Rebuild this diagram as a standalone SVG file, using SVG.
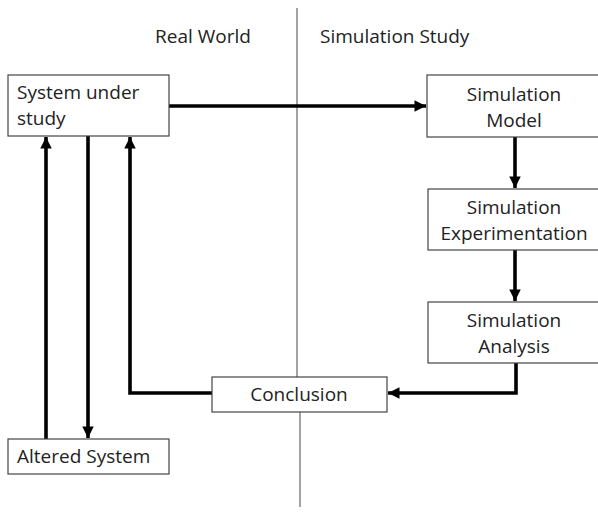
<svg xmlns="http://www.w3.org/2000/svg" width="598" height="513" viewBox="0 0 598 513">
<style>
text{font-family:"Open Sans","Liberation Sans",sans-serif;font-size:19px;fill:#222}
.box{fill:#fff;stroke:#444;stroke-width:1.2}
.c{text-anchor:middle}
.conn{fill:none;stroke:#000;stroke-width:3.6}
.div{stroke:#666;stroke-width:1.2}
</style>
<defs>
<marker id="ah" viewBox="0 0 10 10" refX="10" refY="5" markerWidth="3.2" markerHeight="3.2" orient="auto" markerUnits="strokeWidth">
<path d="M0,0 L10,5 L0,10 z" fill="#000"/>
</marker>
</defs>
<g id="divider">
<line class="div" x1="297" y1="8" x2="297" y2="377"/>
<line class="div" x1="300" y1="412" x2="300" y2="507"/>
</g>
<g id="headers">
<text x="155" y="43">Real World</text>
<text x="320" y="43">Simulation Study</text>
</g>
<g id="connectors">
<path class="conn" d="M169,106 L426,106" marker-end="url(#ah)"/>
<path class="conn" d="M515,137 L515,188" marker-end="url(#ah)"/>
<path class="conn" d="M515,250 L515,301" marker-end="url(#ah)"/>
<path class="conn" d="M516,363 L516,393 L388,393" marker-end="url(#ah)"/>
<path class="conn" d="M212,393 L130,393 L130,137" marker-end="url(#ah)"/>
<path class="conn" d="M46,439 L46,137" marker-end="url(#ah)"/>
<path class="conn" d="M88,136 L88,438" marker-end="url(#ah)"/>
</g>
<g id="system">
<rect class="box" x="8" y="75" width="161" height="61"/>
<text x="17" y="99">System under</text>
<text x="17" y="125">study</text>
</g>
<g id="model">
<rect class="box" x="427" y="75" width="173" height="62"/>
<text class="c" x="514" y="101">Simulation</text>
<text class="c" x="514" y="127">Model</text>
</g>
<g id="experimentation">
<rect class="box" x="428" y="189" width="172" height="61"/>
<text class="c" x="514" y="214">Simulation</text>
<text class="c" x="514" y="240">Experimentation</text>
</g>
<g id="analysis">
<rect class="box" x="428" y="302" width="172" height="61"/>
<text class="c" x="514" y="327">Simulation</text>
<text class="c" x="514" y="353">Analysis</text>
</g>
<g id="conclusion">
<rect class="box" x="212" y="377" width="175" height="35"/>
<text class="c" x="299" y="401">Conclusion</text>
</g>
<g id="altered">
<rect class="box" x="8" y="439" width="161" height="35"/>
<text x="17" y="463">Altered System</text>
</g>
</svg>
